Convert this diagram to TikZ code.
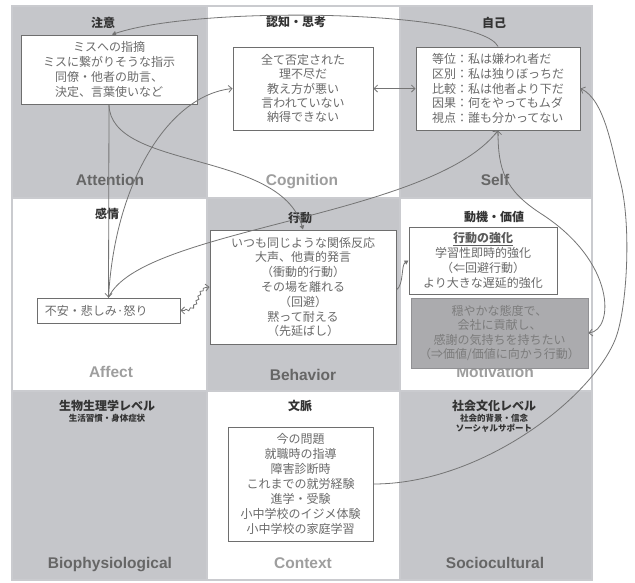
\documentclass[tikz,border=0pt]{standalone}
\usepackage{fontspec}
\setmainfont{Liberation Sans}
\newfontfamily\jp{Noto Sans CJK JP}
\usetikzlibrary{arrows.meta,decorations.pathmorphing}
\definecolor{cellgrey}{HTML}{C5C6CA}
\definecolor{cellline}{HTML}{CACBCF}
\definecolor{boxline}{HTML}{6E6E6E}
\definecolor{txt}{HTML}{6A6A6A}
\definecolor{ttl}{HTML}{333333}
\definecolor{lbldark}{HTML}{666666}
\definecolor{lbllight}{HTML}{9E9E9E}
\definecolor{conncol}{HTML}{747474}
\definecolor{boxfill}{HTML}{ABABAE}
\definecolor{boxtxt}{HTML}{7C7C7C}
\begin{document}
\begin{tikzpicture}[x=1pt,y=-1pt,
  greycell/.style={fill=cellgrey,draw=cellline,line width=1.2pt},
  whitecell/.style={fill=white,draw=cellline,line width=1.2pt},
  lbl/.style={font=\bfseries\fontsize{15.5}{18}\selectfont,inner sep=0,anchor=base},
  ttlnode/.style={font=\jp\bfseries\fontsize{12}{14}\selectfont,text=ttl,inner sep=0},
  subttl/.style={font=\jp\bfseries\fontsize{8.5}{10}\selectfont,text=ttl,inner sep=0},
  jbox/.style={draw=boxline,line width=1pt,fill=white,text=txt,
    font=\jp\fontsize{12}{14.8}\selectfont,align=center,inner sep=0},
  conn/.style={draw=conncol,line width=0.8pt},
  barb/.tip={Straight Barb[length=3.5pt,width=7pt]},
  tri/.tip={Triangle[length=4pt,width=4.5pt]}
]
\useasboundingbox (0,0) rectangle (635,582);
\fill[white] (0,0) rectangle (635,582);
% cells
\path[greycell]  (12,6)   rectangle (207,198);
\path[whitecell] (207,6)  rectangle (400,198);
\path[greycell]  (400,6)  rectangle (592,198);
\path[whitecell] (12,198) rectangle (207,391);
\path[greycell]  (207,198) rectangle (400,391);
\path[whitecell] (400,198) rectangle (592,391);
\path[greycell]  (12,391) rectangle (207,580);
\path[whitecell] (207,391) rectangle (400,580);
\path[greycell]  (400,391) rectangle (592,580);

% cell labels
\node[lbl,text=lbldark]  (lAtt) at (110,185) {Attention};
\node[lbl,text=lbllight] (lCog) at (302,185) {Cognition};
\node[lbl,text=lbldark]  (lSelf) at (495,185) {Self};
\node[lbl,text=lbllight] (lAff) at (111,377) {Affect};
\node[lbl,text=lbldark]  (lBeh) at (303,380) {Behavior};
\node[lbl,text=lbllight] (lMot) at (495,377) {Motivation};
\node[lbl,text=lbldark]  (lBio) at (110,568) {Biophysiological};
\node[lbl,text=lbllight] (lCtx) at (303,568) {Context};
\node[lbl,text=lbldark]  (lSoc) at (495,568) {Sociocultural};

% titles
\node[ttlnode] (tAtt) at (103,23) {注意};
\node[ttlnode] (tCog) at (296,22) {認知・思考};
\node[ttlnode] (tSelf) at (494,23) {自己};
\node[ttlnode] (tAff) at (107,214) {感情};
\node[ttlnode] (tBeh) at (300,218) {行動};
\node[ttlnode] (tMot) at (494,217) {動機・価値};
\node[ttlnode] (tBio) at (107,406) {生物生理学レベル};
\node[subttl] (sBio) at (107,418) {生活習慣・身体症状};
\node[ttlnode] (tCtx) at (300,406) {文脈};
\node[ttlnode] (tSoc) at (494,406) {社会文化レベル};
\node[subttl] (sSoc1) at (494,418) {社会的背景・信念};
\node[subttl] (sSoc2) at (494,428.5) {ソーシャルサポート};

% boxes
\node[jbox,minimum width=176pt,minimum height=69pt,font=\jp\fontsize{12}{15.2}\selectfont] (att) at (109,69.5)
  {ミスへの指摘\\ミスに繋がりそうな指示\\同僚・他者の助言、\\決定、言葉使いなど};
\node[jbox,minimum width=140pt,minimum height=83pt,font=\jp\fontsize{12}{14.4}\selectfont] (cog) at (303,88.5)
  {全て否定された\\理不尽だ\\教え方が悪い\\言われていない\\納得できない};
\node[jbox,minimum width=164pt,minimum height=83pt,align=left] (self) at (498,88.5)
  {等位：私は嫌われ者だ\\区別：私は独りぼっちだ\\比較：私は他者より下だ\\因果：何をやってもムダ\\視点：誰も分かってない};
\node[jbox,minimum height=25pt,align=left,inner xsep=8pt,text width=127pt] (aff) at (108.5,310.5)
  {不安・悲しみ·怒り};
\node[jbox,minimum width=186pt,minimum height=114pt] (beh) at (303,287)
  {いつも同じような関係反応\\大声、他責的発言\\（衝動的行動）\\その場を離れる\\（回避）\\黙って耐える\\（先延ばし）};
\node[jbox,minimum width=148pt,minimum height=67pt] (mot1) at (483,260.5)
  {{\color{ttl!80}\bfseries\underline{行動の強化}}\\学習性即時的強化\\（⇐回避行動）\\より大きな遅延的強化};
\node[jbox,fill=boxfill,draw=boxfill!85!black,text=boxtxt,minimum width=177pt,minimum height=70pt,
  font=\jp\fontsize{12}{14.2}\selectfont] (mot2) at (499.5,333)
  {穏やかな態度で、\\会社に貢献し、\\感謝の気持ちを持ちたい\\（⇒価値/価値に向かう行動）};
\node[jbox,minimum width=145pt,minimum height=114pt,font=\jp\fontsize{12}{15}\selectfont] (ctx) at (300.5,484)
  {今の問題\\就職時の指導\\障害診断時\\これまでの就労経験\\進学・受験\\小中学校のイジメ体験\\小中学校の家庭学習};

% connectors
\draw[conn,-tri] (self.north) .. controls (480,10) and (200,5) .. ([xshift=3pt]att.north);
\draw[conn,-tri] (att.south) .. controls (110,170) and (280,150) .. (beh.north);
\draw[conn,-barb] (att.south) -- (aff.north);
\draw[conn,-barb] (aff.north) .. controls (115,180) and (170,95) .. (cog.west);
\draw[conn,-barb] (aff.north) .. controls (140,228) and (430,218) .. (self.south);
\draw[conn,barb-barb] (cog.east) -- (self.west);
\draw[conn,barb-barb,decorate,decoration={snake,amplitude=1.1pt,segment length=5pt,pre length=4pt,post length=4pt}]
  (aff.east) .. controls (202,312) and (192,287) .. (beh.west);
\draw[conn,-tri] ([yshift=-3pt]beh.east) .. controls (404,284) and (401,265) .. (mot1.west);
\draw[conn,barb-barb] (mot2.east) .. controls (614,330) and (617,262) .. (540,213)
  .. controls (505,190) and (498,170) .. (self.south);
\draw[conn,-barb] (ctx.east) .. controls (480,484) and (590,400) .. (615,340)
  .. controls (627,311) and (632,225) .. (620,180)
  .. controls (612,150) and (605,100) .. (self.east);
\end{tikzpicture}
\end{document}
